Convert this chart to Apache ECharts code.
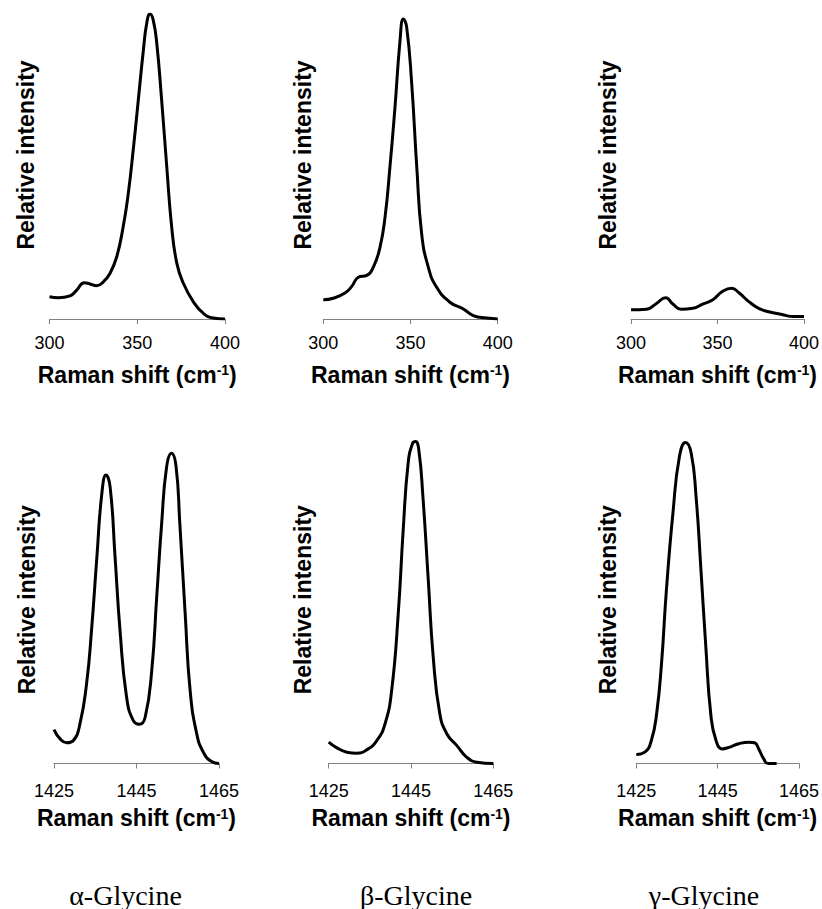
<!DOCTYPE html>
<html>
<head>
<meta charset="utf-8">
<script src="https://cdn.jsdelivr.net/npm/echarts@6/dist/echarts.min.js"></script>
<style>
html,body{margin:0;padding:0;background:#fff;}
#chart{width:822px;height:909px;}
</style>
</head>
<body>
<div id="chart"></div>
<script>
// Low-frequency region (300-400 cm-1)
var lowTicks = [300, 350, 400];
var alphaLow = [[300,7.3],[305,7.0],[311.7,7.6],[315.5,9.5],[319.8,11.9],[323,11.5],[326.9,10.9],[330.7,12.2],[334.5,15],[338.3,20.4],[342,30.3],[344.9,41.2],[347.7,55.4],[350.6,71.8],[353.5,88.2],[355.4,97],[357.3,100],[359.1,98],[361.1,90.5],[363.9,71.8],[366.8,50],[369.6,30.3],[372.5,18.4],[376.2,11.8],[381.9,5.7],[387.6,1.9],[393.3,0.3],[400,0]];
var betaLow = [[300,6.3],[305.7,6.8],[312.4,8.5],[316.3,10.7],[320.1,13.7],[324.9,14.3],[328.7,17],[332.5,23.5],[335.4,33.4],[338.2,49.8],[341.1,69.4],[344,91.3],[345.9,98.4],[347.8,95.7],[350.7,77.1],[353.6,49.8],[356.4,27.9],[360.2,17],[365,10.4],[372.6,5.5],[380.3,3.3],[386,1.1],[393.7,0.3],[400,0]];
var gammaLow = [[300,3],[309,3.2],[314.7,5.1],[320,7],[324.2,4.9],[329,3.2],[335.7,3.5],[341.4,4.9],[347.1,6.2],[352.8,9],[358.2,10.1],[362.4,8.6],[368.1,5.7],[373.8,3.5],[379.6,2.4],[387.2,1.5],[393.9,0.8],[400,0.8]];

// High-frequency region (1425-1465 cm-1)
var highTicks = [1425, 1445, 1465];
var alphaHigh = [[1425,10.5],[1426.5,7.6],[1428.1,6.4],[1429.7,7.1],[1431.3,12.3],[1432.9,24.7],[1434.1,41.2],[1435.4,63.9],[1436.6,83.5],[1437.6,89.2],[1438.6,85.5],[1439.8,63.9],[1441,41.2],[1442.6,20.5],[1444.2,13.3],[1445.7,12.1],[1447.1,14.3],[1448.7,28.8],[1449.9,51.5],[1451.1,74.2],[1452.3,91.7],[1453.5,95.9],[1454.6,91.7],[1455.5,74.2],[1456.8,46.3],[1458,22.6],[1459.6,9.2],[1461.2,3.5],[1463.2,0.6],[1465,0]];
var betaHigh = [[1425,6.6],[1426.9,4.9],[1429.4,3.5],[1431.8,3.2],[1434.2,4.2],[1436.7,7.1],[1438.7,12.3],[1440.3,22.6],[1441.9,46.3],[1443.1,72.1],[1444.3,92.8],[1445.4,99],[1446.1,99.5],[1446.9,96.9],[1447.9,82.4],[1449.2,56.7],[1450.4,32.9],[1452,15.4],[1453.7,9.2],[1456.1,5.6],[1458.5,2],[1461,0.4],[1465,0]];
var gammaHigh = [[1425,2.8],[1427.1,3.5],[1428.7,7.1],[1430,15.4],[1431.2,30.9],[1432.4,53.6],[1434,77.3],[1435.6,94.8],[1437.1,99.2],[1438.5,95.9],[1439.7,82.4],[1440.9,59.8],[1442.1,36],[1443.3,15.4],[1444.6,7.1],[1446.2,4.5],[1447.8,5],[1450.2,6.1],[1452.7,6.6],[1454.1,6.4],[1455.1,4.5],[1456.3,1.5],[1457.4,0],[1459.5,0]];

var polymorphs = ['α-Glycine', 'β-Glycine', 'γ-Glycine'];
var yName = 'Relative intensity';
var xName = '{a|Raman shift (cm}{s|-1}{a|)}';

var sans = '"Liberation Sans", Arial, sans-serif';
var serif = '"Liberation Serif", "Times New Roman", serif';

var panels = [
  {grid:{left:49.5, top:14, width:175.5, height:305}, min:300, max:400, ticks:lowTicks, data:alphaLow, gap:12, pad:23, lm:15, ng:44},
  {grid:{left:323.3, top:14, width:174.4, height:305}, min:300, max:400, ticks:lowTicks, data:betaLow, gap:9, pad:23, lm:15, ng:44},
  {grid:{left:631, top:14, width:174.7, height:305}, min:300, max:400, ticks:lowTicks, data:gammaLow, gap:12, pad:23, lm:15, ng:44},
  {grid:{left:54, top:440, width:165, height:323.5}, min:1425, max:1465, ticks:highTicks, data:alphaHigh, gap:16, pad:4, lm:18, ng:43},
  {grid:{left:328.7, top:440, width:164.6, height:323.5}, min:1425, max:1465, ticks:highTicks, data:betaHigh, gap:14, pad:4, lm:18, ng:43},
  {grid:{left:636.3, top:440, width:164.4, height:323.5}, min:1425, max:1465, ticks:highTicks, data:gammaHigh, gap:17, pad:4, lm:18, ng:43}
];

var grids = [], xAxes = [], yAxes = [], series = [];
panels.forEach(function(p, i){
  grids.push(p.grid);
  xAxes.push({
    type:'value', gridIndex:i, min:p.min, max:p.max,
    name:xName, nameLocation:'middle', nameGap:p.ng, nameMoveOverlap:false,
    nameTextStyle:{rich:{
      a:{fontFamily:sans, fontSize:23, fontWeight:'bold', color:'#000'},
      s:{fontFamily:sans, fontSize:14, fontWeight:'bold', color:'#000', verticalAlign:'top'}
    }},
    axisLine:{show:true, lineStyle:{color:'#808080', width:1}},
    axisTick:{show:true, length:5, customValues:p.ticks, lineStyle:{color:'#808080', width:1}},
    axisLabel:{show:true, customValues:p.ticks, margin:p.lm, fontFamily:sans, fontSize:18, color:'#000',
      formatter:function(v){ return String(v); }},
    splitLine:{show:false}
  });
  yAxes.push({
    type:'value', gridIndex:i, min:0, max:100,
    name:yName, nameLocation:'middle', nameGap:p.gap, nameMoveOverlap:false,
    nameTextStyle:{fontFamily:sans, fontSize:23, fontWeight:'bold', color:'#000', padding:[0,0,0,p.pad]},
    axisLine:{show:false}, axisTick:{show:false}, axisLabel:{show:false}, splitLine:{show:false}
  });
  series.push({
    type:'line', xAxisIndex:i, yAxisIndex:i, data:p.data,
    smooth:0.5, symbol:'none', silent:true,
    lineStyle:{color:'#000', width:3}
  });
});

var labelX = [125.5, 416, 704];
var graphics = polymorphs.map(function(t, i){
  return {type:'text', x:labelX[i], y:895,
    style:{text:t, textAlign:'center', textVerticalAlign:'middle', font:'28px ' + serif, fill:'#000'}};
});

var chart = echarts.init(document.getElementById('chart'), null, {renderer:'svg'});
chart.setOption({
  animation:false,
  backgroundColor:'#fff',
  grid:grids, xAxis:xAxes, yAxis:yAxes, series:series,
  graphic:graphics
});
</script>
</body>
</html>
